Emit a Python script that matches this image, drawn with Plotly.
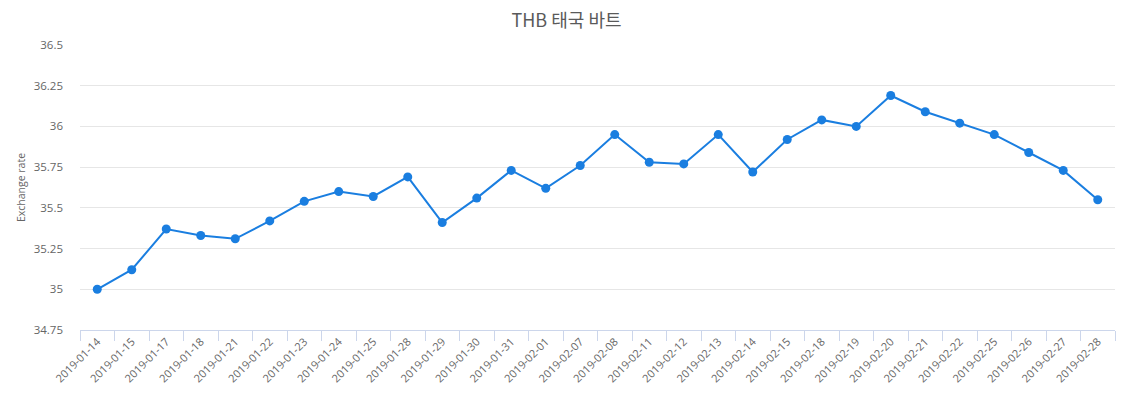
import plotly.graph_objects as go

# THB exchange rate, trading days Jan-Feb 2019
dates = ["2019-01-14", "2019-01-15", "2019-01-17", "2019-01-18", "2019-01-21",
         "2019-01-22", "2019-01-23", "2019-01-24", "2019-01-25", "2019-01-28",
         "2019-01-29", "2019-01-30", "2019-01-31", "2019-02-01", "2019-02-07",
         "2019-02-08", "2019-02-11", "2019-02-12", "2019-02-13", "2019-02-14",
         "2019-02-15", "2019-02-18", "2019-02-19", "2019-02-20", "2019-02-21",
         "2019-02-22", "2019-02-25", "2019-02-26", "2019-02-27", "2019-02-28"]
rates = [35.00, 35.12, 35.37, 35.33, 35.31,
         35.42, 35.54, 35.60, 35.57, 35.69,
         35.41, 35.56, 35.73, 35.62, 35.76,
         35.95, 35.78, 35.77, 35.95, 35.72,
         35.92, 36.04, 36.00, 36.19, 36.09,
         36.02, 35.95, 35.84, 35.73, 35.55]
y_ticks = [34.75, 35, 35.25, 35.5, 35.75, 36, 36.25, 36.5]
y_labels = ["34.75", "35", "35.25", "35.5", "35.75", "36", "36.25", "36.5"]

font_family = "Open Sans, sans-serif"

fig = go.Figure()
fig.add_trace(go.Scatter(
    x=dates, y=rates, mode="lines+markers",
    line=dict(color="#1a7ee0", width=2),
    marker=dict(color="#1a7ee0", size=9),
    hovertemplate="%{x}<br>%{y}<extra></extra>",
))

fig.update_xaxes(
    type="category",
    tickangle=-45,
    tickson="boundaries",
    ticks="outside", ticklen=10, tickcolor="#ccd6eb",
    showline=True, linecolor="#ccd6eb", linewidth=1,
    showgrid=False,
    tickfont=dict(family=font_family, size=11, color="#666666"),
    range=[-0.5, len(dates) - 0.5],
)
fig.update_yaxes(
    range=[34.75, 36.5],
    tickvals=y_ticks, ticktext=y_labels,
    showgrid=True, gridcolor="#e6e6e6", gridwidth=1,
    zeroline=False, showline=False,
    ticks="", ticklabelstandoff=16,
    tickfont=dict(family=font_family, size=11.5, color="#666666"),
    title=dict(text="Exchange rate", standoff=5,
               font=dict(family=font_family, size=10.5, color="#666666")),
)

# page renders with an 8px body offset, so the figure is sized to fit the window
fig.update_layout(
    title=dict(text="THB 태국 바트", x=0.5, xanchor="center", y=0.968, yanchor="middle",
               font=dict(family="Noto Sans CJK KR, sans-serif", size=18, color="#5a5a5a")),
    width=1117, height=392,
    margin=dict(l=72, r=10, t=37, b=70),
    plot_bgcolor="white", paper_bgcolor="white",
    showlegend=False,
)

fig.write_html("out.html")
